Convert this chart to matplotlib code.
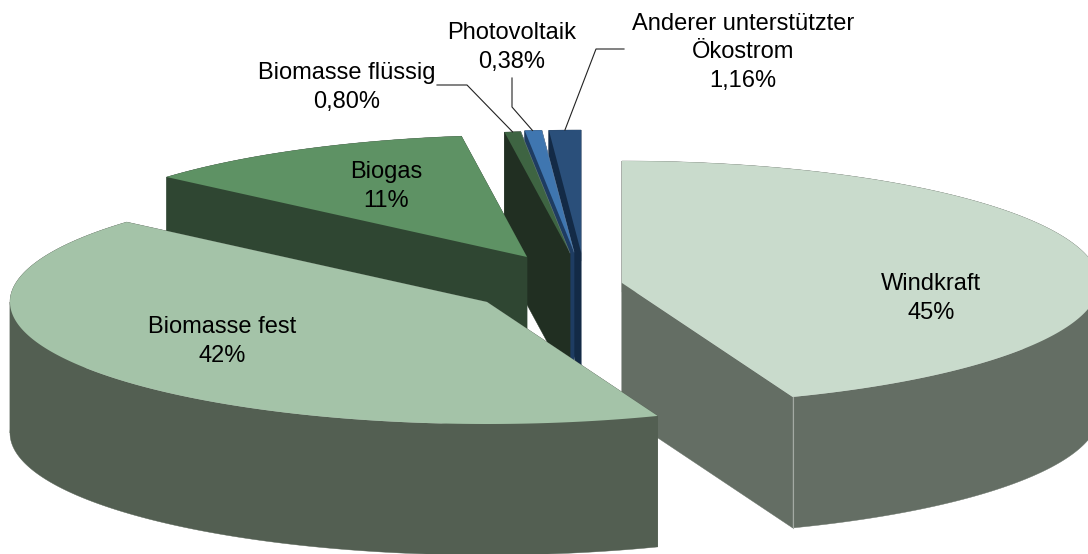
import numpy as np
import matplotlib
matplotlib.use("Agg")
import matplotlib.pyplot as plt
from matplotlib.patches import Polygon

plt.rcParams['font.family'] = ['Liberation Sans', 'DejaVu Sans']

# Data
categories = ["Windkraft", "Biomasse fest", "Biogas", "Biomasse flüssig", "Photovoltaik",
              "Anderer unterstützter\nÖkostrom"]
values = [45, 42, 11, 0.80, 0.38, 1.16]
value_labels = ["45%", "42%", "11%", "0,80%", "0,38%", "1,16%"]

# Style / layout
top_colors = ["#c9dbcc", "#a4c3a8", "#5e9264", "#3e6442", "#3f76b0", "#2a4f7a"]
side_colors = ["#646e64", "#535f52", "#2f4632", "#212f22", "#1e3c62", "#132a46"]
centre = np.array([575.0, 285.0])
rx, ry, depth = 477.0, 122.0, 131.0
explode = [(47, -2), (-88, 17), (-48, -28), (-5, -32), (-1, -33), (6, -33)]
label_xy = [(931, 298.5), (222, 341.5), (386, 186.5), (347, 87.5), (512, 47.5), (743, 52.5)]
draw_order = [0, 5, 4, 3, 2, 1]
leaders = {3: [(437, 85), (467, 85)], 4: [(512, 78), (512, 107)], 5: [(624, 49), (596, 49)]}
leader_end_frac = {3: 0.5, 4: 0.45, 5: 0.5}
# angular correction of the back half for the chart's perspective (degrees)
back_angle = [270, 312, 340, 351.6, 354.47, 355.83, 360]
back_shift = [0, -1.2, 0, 0.5, -0.4, 0.3, 0]
fold_angles = [90.0, 270.0]

fig = plt.figure(figsize=(10.88, 5.54), dpi=100)
ax = fig.add_axes([0, 0, 1, 1])
ax.set_xlim(0, 1088)
ax.set_ylim(554, 0)
ax.axis("off")


def warp(theta):
    t = np.asarray(theta, dtype=float)
    front = t + 4 * np.sin(np.radians(2 * t))
    back = t + np.interp(t, back_angle, back_shift)
    return np.where((t > 90) & (t < 270), front, np.where(t >= 270, back, t))


def rim(theta):
    t = np.radians(warp(theta))
    return np.column_stack([rx * np.sin(t), -ry * np.cos(t)])


edges = np.concatenate([[0], np.cumsum(values)]) / np.sum(values) * 360.0
down = np.array([0, depth])

for i in draw_order:
    z = 2 + draw_order.index(i)
    apex = centre + np.array(explode[i], dtype=float)
    a0, a1 = edges[i], edges[i + 1]
    arc = rim(np.linspace(a0, a1, max(int(a1 - a0) * 2, 3))) + apex
    top = np.vstack([apex, arc])

    # outer wall, split where the rim turns back so each band is simple
    stops = [a0] + [f for f in fold_angles if a0 < f < a1] + [a1]
    faces = [
        np.array([apex, arc[0], arc[0] + down, apex + down]),
        np.array([apex, arc[-1], arc[-1] + down, apex + down]),
    ]
    for s0, s1 in zip(stops[:-1], stops[1:]):
        band = rim(np.linspace(s0, s1, max(int(s1 - s0) * 2, 3))) + apex
        faces.append(np.vstack([band, (band + down)[::-1]]))
    for face in faces:
        ax.add_patch(Polygon(face, closed=True, facecolor=side_colors[i],
                             edgecolor=side_colors[i], linewidth=0.3, zorder=z))
    ax.add_patch(Polygon(top, closed=True, facecolor=top_colors[i], edgecolor="none",
                         zorder=z + 0.5))
    if i == 0:
        ax.plot([arc[-1, 0]] * 2, [arc[-1, 1], arc[-1, 1] + depth], color="#a3aaa3",
                lw=0.8, zorder=z + 0.6)
    if i >= 3:
        ax.plot([apex[0], arc[-1, 0]], [apex[1], arc[-1, 1]], color="#7f93ab", lw=0.4,
                alpha=0.7, zorder=z + 0.6)

    ax.text(label_xy[i][0], label_xy[i][1], categories[i] + "\n" + value_labels[i],
            ha="center", va="center", fontsize=17, color="black", linespacing=1.38, zorder=20)

    if i in leaders:
        mid = rim(np.array([a0 + (a1 - a0) * leader_end_frac[i]]))[0] + apex
        pts = np.array(leaders[i] + [tuple(mid)])
        ax.plot(pts[:, 0], pts[:, 1], color="#222222", lw=0.8, zorder=15)

fig.savefig("out.png", dpi=100)
